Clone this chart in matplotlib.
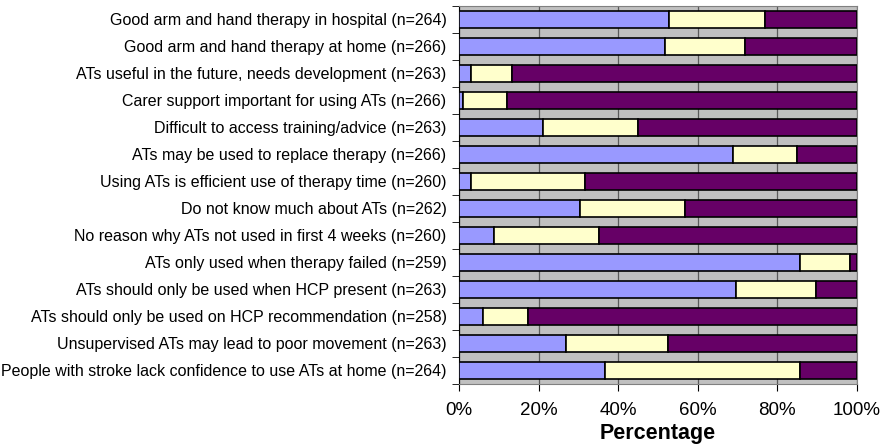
import numpy as np
import matplotlib.pyplot as plt
from matplotlib.ticker import FixedLocator, PercentFormatter

plt.rcParams['font.family'] = ['Liberation Sans', 'DejaVu Sans']

labels = [
    "Good arm and hand therapy in hospital (n=264)",
    "Good arm and hand therapy at home (n=266)",
    "ATs useful in the future, needs development (n=263)",
    "Carer support important for using ATs (n=266)",
    "Difficult to access training/advice (n=263)",
    "ATs may be used to replace therapy (n=266)",
    "Using ATs is efficient use of therapy time (n=260)",
    "Do not know much about ATs (n=262)",
    "No reason why ATs not used in first 4 weeks (n=260)",
    "ATs only used when therapy failed (n=259)",
    "ATs should only be used when HCP present (n=263)",
    "ATs should only be used on HCP recommendation (n=258)",
    "Unsupervised ATs may lead to poor movement (n=263)",
    "People with stroke lack confidence to use ATs at home (n=264)",
]

# percentages per category (top to bottom)
disagree = [52.7, 51.8, 2.9, 1.0, 21.2, 68.8, 3.0, 30.5, 8.7, 85.7, 69.6, 6.1, 27.0, 36.8]
unsure = [24.2, 20.0, 10.3, 11.0, 23.7, 16.2, 28.6, 26.4, 26.6, 12.7, 20.2, 11.2, 25.5, 48.9]
agree = [23.1, 28.2, 86.8, 88.0, 55.1, 15.0, 68.4, 43.1, 64.7, 1.6, 10.2, 82.7, 47.5, 14.3]

colors = ['#9999FF', '#FFFFCC', '#660066']

fig = plt.figure(figsize=(8.8, 4.47), dpi=100)
ax = fig.add_axes([0.5216, 0.141, 0.4519, 0.8456])
ax.set_facecolor('#C0C0C0')

y = np.arange(len(labels))
left = np.zeros(len(labels))
for vals, c in zip([disagree, unsure, agree], colors):
    ax.barh(y, vals, left=left, height=0.65, color=c, edgecolor='black', linewidth=1.2, zorder=3)
    left = left + np.array(vals)

ax.set_xlim(0, 100)
ax.set_ylim(len(labels) - 0.5, -0.5)
ax.set_yticks(y)
ax.set_yticklabels(labels, fontsize=11.5)
ax.tick_params(axis='y', which='major', length=0, pad=9)
ax.yaxis.set_minor_locator(FixedLocator(np.arange(-0.5, len(labels), 1)))
ax.tick_params(axis='y', which='minor', length=5, direction='out', color='black')

ax.set_xticks([0, 20, 40, 60, 80, 100])
ax.xaxis.set_major_formatter(PercentFormatter(decimals=0))
ax.tick_params(axis='x', length=5, direction='out', labelsize=13.5, pad=8)
ax.grid(axis='x', color='#5a5a5a', linewidth=0.9, zorder=1)

for s in ['top', 'right', 'bottom']:
    ax.spines[s].set_color('#808080')
ax.spines['left'].set_color('black')

ax.set_xlabel('Percentage', fontsize=15.5, fontweight='bold', labelpad=3)

fig.savefig('out.png', dpi=100)
